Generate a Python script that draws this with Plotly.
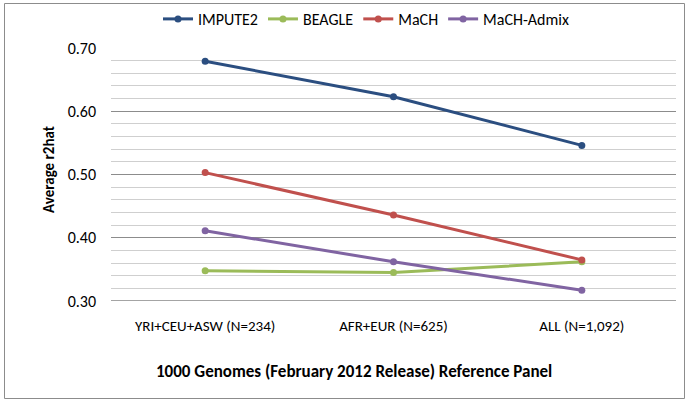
import plotly.graph_objects as go

# chart data
categories = ["YRI+CEU+ASW (N=234)", "AFR+EUR (N=625)", "ALL (N=1,092)"]
impute2 = [0.679, 0.623, 0.546]
beagle = [0.348, 0.345, 0.362]
mach = [0.503, 0.436, 0.365]
mach_admix = [0.411, 0.362, 0.317]

series_names = ["IMPUTE2", "BEAGLE", "MaCH", "MaCH-Admix"]
series_values = [impute2, beagle, mach, mach_admix]
series_colors = ["#2B4E80", "#9BBB59", "#C0504D", "#8064A2"]

y_ticks = [0.30, 0.40, 0.50, 0.60, 0.70]

FONT = "Carlito, Calibri, Lato, sans-serif"
W, H = 691, 404
# plot area in pixels
PL, PR, PT, PB = 111, 676, 48, 301


def px_x(x):
    return (x - PL) / (PR - PL)


def px_y(y):
    return (PB - y) / (PB - PT)


fig = go.Figure()
for name, vals, col in zip(series_names, series_values, series_colors):
    fig.add_trace(go.Scatter(
        x=categories, y=vals, name=name, mode="lines+markers",
        line=dict(color=col, width=3),
        marker=dict(color=col, size=7),
    ))

fig.update_layout(
    width=W, height=H,
    margin=dict(l=PL, r=W - PR, t=PT, b=H - PB, autoexpand=False),
    paper_bgcolor="white", plot_bgcolor="white",
    font=dict(family=FONT, size=14, color="#000000"),
    showlegend=True,
    legend=dict(
        orientation="h", x=px_x(366), xanchor="center",
        y=px_y(19), yanchor="middle", itemwidth=30,
        font=dict(size=16), bgcolor="rgba(0,0,0,0)",
    ),
    xaxis=dict(
        type="category", range=[-0.5, 2.5], showgrid=False,
        showline=False, ticks="", ticklabelstandoff=14,
        tickfont=dict(size=15), fixedrange=True,
    ),
    yaxis=dict(
        range=[0.30, 0.70], tickvals=y_ticks, tickformat=".2f",
        showgrid=True, gridcolor="#8C8C8C", gridwidth=1,
        minor=dict(dtick=0.02, showgrid=True, gridcolor="#CFCFCF", gridwidth=1),
        zeroline=False, showline=False, ticks="", ticklabelstandoff=14,
        tickfont=dict(size=16),
    ),
    shapes=[
        dict(type="rect", xref="paper", yref="paper",
             x0=px_x(4.5), x1=px_x(684.5), y0=px_y(398.5), y1=px_y(3.5),
             line=dict(color="#8C8C8C", width=1), layer="below"),
        dict(type="line", xref="paper", yref="y", x0=0, x1=1, y0=0.30, y1=0.30,
             line=dict(color="#868686", width=1.5), layer="below"),
    ],
    annotations=[
        dict(text="<b>Average r2hat</b>", textangle=-90, xref="paper", yref="paper",
             x=px_x(38), y=px_y(170), showarrow=False, font=dict(size=15)),
        dict(text="<b>1000 Genomes (February 2012 Release) Reference Panel</b>",
             xref="paper", yref="paper", x=px_x(354), y=px_y(384),
             showarrow=False, font=dict(size=17)),
    ],
)

# drop the browser's default 8px body margin so the chart sits at (0, 0)
fig.write_html("out.html", config={"displayModeBar": False},
               post_script="document.body.style.margin='0';")
